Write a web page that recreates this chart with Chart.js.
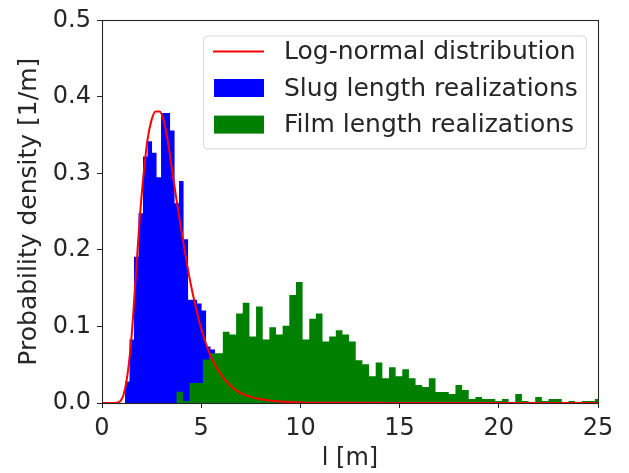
<!DOCTYPE html>
<html>
<head>
<meta charset="utf-8">
<script src="https://cdn.jsdelivr.net/npm/chart.js@4/dist/chart.umd.min.js"></script>
<style>
  html, body { margin: 0; padding: 0; background: #fff; }
  #wrap { width: 629px; height: 473px; }
</style>
</head>
<body>
<div id="wrap"><canvas id="chart" width="629" height="473"></canvas></div>
<script>
// histogram of slug lengths (density), uniform bins
const slugBinStart = 1.16;
const slugBinWidth = 0.227;
const slugDensity = [0.028, 0.083, 0.191, 0.248, 0.322, 0.342, 0.327, 0.295, 0.379, 0.379,
  0.356, 0.261, 0.290, 0.214, 0.135, 0.135, 0.130, 0.121, 0.074, 0.070];

// histogram of film lengths (density), uniform bins
const filmBinStart = 3.745;
const filmBinWidth = 0.335;
const filmDensity = [0.0147, 0.0026, 0.026, 0.026, 0.057, 0.065, 0.065, 0.093, 0.0896, 0.117,
  0.131, 0.087, 0.126, 0.083, 0.099, 0.0896, 0.101, 0.141, 0.158, 0.083,
  0.110, 0.117, 0.0805, 0.087, 0.095, 0.0896, 0.0805, 0.056, 0.0506, 0.035,
  0.053, 0.0325, 0.0468, 0.035, 0.044, 0.0325, 0.0234, 0.0208, 0.0325, 0.0143,
  0.0143, 0.0117, 0.0234, 0.0169, 0.0052, 0.0078, 0.0052, 0.0052, 0.0026, 0.0052,
  0, 0.0117, 0.0026, 0, 0.0078, 0.0026, 0.0052, 0.0052, 0, 0.0026,
  0, 0.0026, 0.0026, 0.0052];

// log-normal curve
const curveX = [0, 0.6, 0.9, 1.1, 1.3, 1.5, 1.7, 1.9, 2.1, 2.3, 2.5, 2.7, 2.9, 3.1, 3.3, 3.5,
  3.8, 4.1, 4.4, 4.7, 5.0, 5.5, 6.0, 6.5, 7.0, 7.5, 8, 9, 10, 12, 15, 20, 25];
const curveY = [0, 0, 0.002, 0.012, 0.04, 0.09, 0.165, 0.24, 0.3, 0.345, 0.37, 0.381, 0.381, 0.37, 0.345, 0.31,
  0.258, 0.21, 0.165, 0.128, 0.097, 0.06, 0.037, 0.022, 0.013, 0.008, 0.005, 0.002, 0.0008, 0.0002, 0, 0, 0];

const xTicks = [0, 5, 10, 15, 20, 25];
const yTicks = [0, 0.1, 0.2, 0.3, 0.4, 0.5];

const labels = ['Log-normal distribution', 'Slug length realizations', 'Film length realizations'];
const colors = ['#ff0000', '#0000ff', '#008000'];

const textColor = '#262626';
const fontFamily = "'DejaVu Sans', sans-serif";

// step outline of a histogram, closed at the last bin edge
function histPoints(start, width, dens) {
  const pts = dens.map((d, i) => ({ x: start + i * width, y: d }));
  pts.push({ x: start + dens.length * width, y: dens[dens.length - 1] });
  return pts;
}

const framePlugin = {
  id: 'frame',
  afterDatasetsDraw(chart) {
    const { ctx, chartArea: a } = chart;
    ctx.save();
    ctx.strokeStyle = textColor;
    ctx.lineWidth = 1.1;
    ctx.strokeRect(Math.round(a.left) + 0.5, Math.round(a.top) + 0.5,
      Math.round(a.right - a.left), Math.round(a.bottom - a.top));
    ctx.restore();
  }
};

const legendPlugin = {
  id: 'boxLegend',
  afterDraw(chart) {
    const { ctx, chartArea: a } = chart;
    const w = 383, h = 113;
    const x0 = a.right - 12 - w, y0 = a.top + 15;
    ctx.save();
    ctx.beginPath();
    ctx.roundRect(x0 + 0.5, y0 + 0.5, w, h, 4);
    ctx.fillStyle = 'rgba(255,255,255,0.8)';
    ctx.fill();
    ctx.strokeStyle = '#d6d6d6';
    ctx.lineWidth = 1;
    ctx.stroke();
    ctx.font = '25px ' + fontFamily;
    ctx.textBaseline = 'middle';
    ctx.textAlign = 'left';
    labels.forEach((lab, i) => {
      const cy = y0 + 16 + i * 36.6;
      if (i === 0) {
        ctx.strokeStyle = colors[0];
        ctx.lineWidth = 2;
        ctx.beginPath();
        ctx.moveTo(x0 + 10, cy);
        ctx.lineTo(x0 + 61, cy);
        ctx.stroke();
      } else {
        ctx.fillStyle = colors[i];
        ctx.fillRect(x0 + 11, cy - 9, 50, 18);
      }
      ctx.fillStyle = textColor;
      ctx.fillText(lab, x0 + 81, cy + 1);
    });
    ctx.restore();
  }
};

new Chart('chart', {
  type: 'line',
  data: {
    datasets: [
      {
        label: labels[0],
        data: curveX.map((x, i) => ({ x: x, y: curveY[i] })),
        borderColor: colors[0],
        borderWidth: 2,
        pointRadius: 0,
        cubicInterpolationMode: 'monotone',
        fill: false,
        order: 0
      },
      {
        label: labels[2],
        data: histPoints(filmBinStart, filmBinWidth, filmDensity),
        stepped: true,
        backgroundColor: colors[2],
        borderColor: 'transparent',
        borderWidth: 0,
        pointRadius: 0,
        fill: 'origin',
        order: 1
      },
      {
        label: labels[1],
        data: histPoints(slugBinStart, slugBinWidth, slugDensity),
        stepped: true,
        backgroundColor: colors[1],
        borderColor: 'transparent',
        borderWidth: 0,
        pointRadius: 0,
        fill: 'origin',
        order: 2
      }
    ]
  },
  options: {
    responsive: false,
    animation: false,
    events: [],
    layout: { padding: { left: 0, right: 31, top: 18, bottom: 0 } },
    plugins: {
      legend: { display: false },
      tooltip: { enabled: false }
    },
    scales: {
      x: {
        type: 'linear',
        min: 0,
        max: 25,
        afterFit: (s) => { s.height = 70; },
        afterBuildTicks: (s) => { s.ticks = xTicks.map(v => ({ value: v })); },
        ticks: { color: textColor, font: { family: fontFamily, size: 24 }, padding: 6, maxRotation: 0 },
        grid: { display: true, drawOnChartArea: false, drawTicks: true, tickLength: 5, tickColor: textColor },
        border: { display: false },
        title: { display: true, text: 'l [m]', color: textColor, font: { family: fontFamily, size: 24 }, padding: { top: 0, bottom: 0 } }
      },
      y: {
        min: 0,
        max: 0.5,
        afterFit: (s) => { s.width = 102; },
        afterBuildTicks: (s) => { s.ticks = yTicks.map(v => ({ value: v })); },
        ticks: { color: textColor, font: { family: fontFamily, size: 24 }, padding: 6, callback: (v) => v.toFixed(1) },
        grid: { display: true, drawOnChartArea: false, drawTicks: true, tickLength: 5, tickColor: textColor },
        border: { display: false },
        title: { display: true, text: 'Probability density [1/m]', color: textColor, font: { family: fontFamily, size: 25 }, padding: { top: 14, bottom: 0 } }
      }
    }
  },
  plugins: [framePlugin, legendPlugin]
});
</script>
</body>
</html>
